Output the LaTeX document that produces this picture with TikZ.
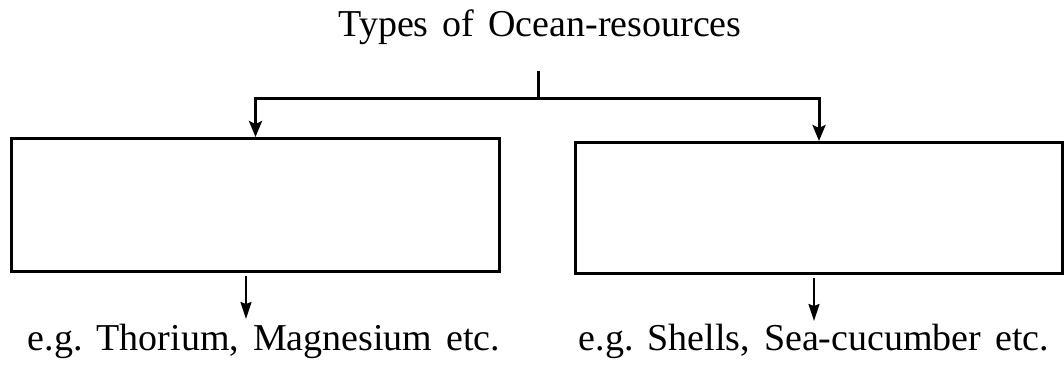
\documentclass[tikz,border=0pt]{standalone}
\usepackage{fontspec}
\setmainfont{Liberation Serif}
\usetikzlibrary{arrows.meta,calc}
\newcommand{\lblfont}{\fontsize{38}{42}\selectfont\frenchspacing\spaceskip=14pt plus 2pt minus 2pt\relax}
\begin{document}
\begin{tikzpicture}[x=1pt,y=-1pt,
  lbl/.style={inner sep=0pt,anchor=base,font=\lblfont},
  box/.style={draw,line width=3pt,inner sep=0pt},
  conn/.style={line width=3pt},
  arr/.style={line width=3pt,-{Stealth[length=16pt,width=13pt,inset=3pt]}},
  arrthin/.style={line width=2pt,-{Stealth[length=17pt,width=11pt,inset=2pt]}}]
\useasboundingbox (0,0) rectangle (1064,367);
\node[lbl] (title) at (540,36) {Types of Ocean-resources};
\node[box,minimum width=488pt,minimum height=133pt] (box1) at (255.5,205) {};
\node[box,minimum width=487pt,minimum height=131pt] (box2) at (819,208) {};
\node[lbl] (ex1) at (264,350) {e.g. Thorium, Magnesium etc.};
\node[lbl] (ex2) at (814,350) {e.g. Shells, Sea-cucumber etc.};
\coordinate (t) at (538,71);
\coordinate (j) at (538,98);
\draw[conn] (t) -- (j);
\draw[arr] (j) -| (box1.north);
\draw[arr] (j) -| (box2.north);
\coordinate (a1) at (246,276);
\coordinate (b1) at (246,319);
\coordinate (a2) at (814,278);
\coordinate (b2) at (814,321);
\draw[arrthin] (a1) -- (b1);
\draw[arrthin] (a2) -- (b2);
\end{tikzpicture}
\end{document}
